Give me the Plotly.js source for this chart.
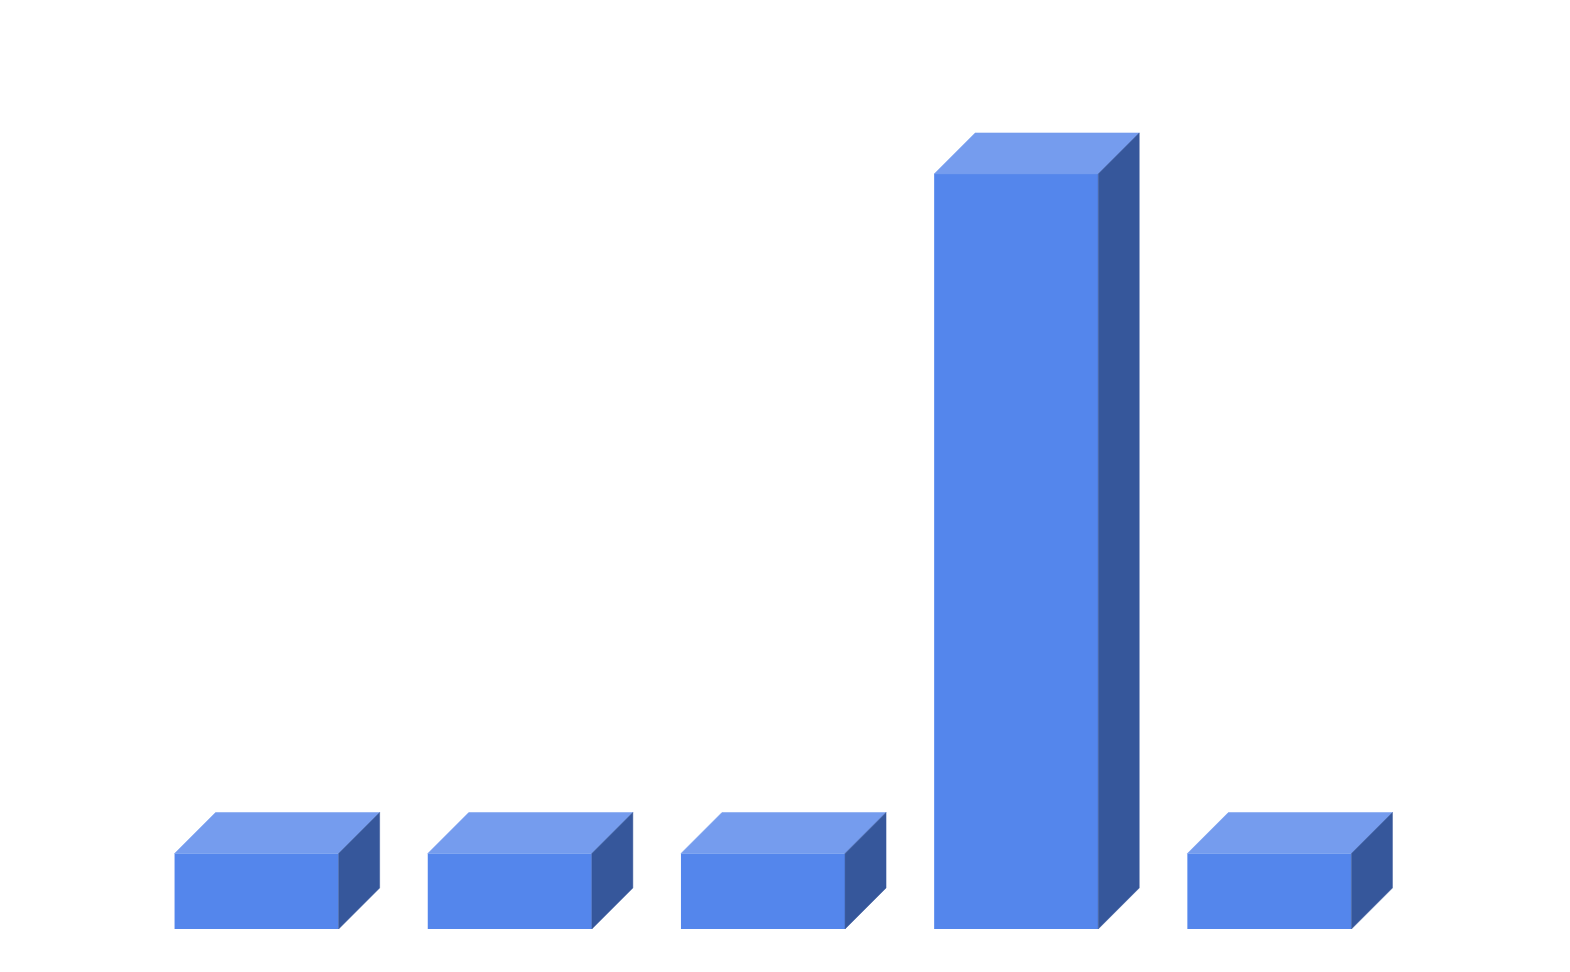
<!DOCTYPE html>
<html>
    <head>
        <script src="https://cdn.plot.ly/plotly-3.0.1.min.js"></script>
        <style>body { margin: 0; }</style>
    </head>
    <body>
        <div id="plot"></div>
        <script type="text/javascript">
            var categories = ['A', 'B', 'C', 'D', 'E'];
            var values = [1, 1, 1, 10, 1];

            var W = 1570, H = 972;
            var margin = {l: 130, r: 174, t: 41, b: 43, pad: 0};
            var yMax = 11.76;
            var barWidth = 0.648;
            var depthPx = 41;

            // convert the pixel depth of the 3d look into axis units
            var plotW = W - margin.l - margin.r;
            var plotH = H - margin.t - margin.b;
            var dx = depthPx * categories.length / plotW;
            var dy = depthPx * yMax / plotH;

            var xs = categories.map((c, i) => i);
            var topX = [], topY = [], sideX = [], sideY = [];
            xs.forEach(function(x, i) {
                var l = x - barWidth / 2, r = x + barWidth / 2, v = values[i];
                topX.push(l, r, r + dx, l + dx, l, null);
                topY.push(v, v, v + dy, v + dy, v, null);
                sideX.push(r, r + dx, r + dx, r, r, null);
                sideY.push(0, dy, v + dy, v, 0, null);
            });

            var frontFace = {
                type: 'bar', x: xs, y: values, text: categories,
                width: barWidth,
                marker: {color: '#5486EC', line: {width: 0}},
                hoverinfo: 'text+y', textposition: 'none'
            };
            var topFace = {
                type: 'scatter', mode: 'lines', x: topX, y: topY,
                fill: 'toself', fillcolor: '#759CEE',
                line: {color: '#759CEE', width: 0.5}, hoverinfo: 'skip'
            };
            var sideFace = {
                type: 'scatter', mode: 'lines', x: sideX, y: sideY,
                fill: 'toself', fillcolor: '#36579B',
                line: {color: '#36579B', width: 0.5}, hoverinfo: 'skip'
            };

            Plotly.newPlot('plot', [frontFace, topFace, sideFace], {
                width: W, height: H, margin: margin,
                showlegend: false,
                paper_bgcolor: '#ffffff', plot_bgcolor: '#ffffff',
                xaxis: {range: [-0.5, 4.5], visible: false, fixedrange: true},
                yaxis: {range: [0, yMax], visible: false, fixedrange: true}
            }, {displayModeBar: false, staticPlot: true});
        </script>
    </body>
</html>
